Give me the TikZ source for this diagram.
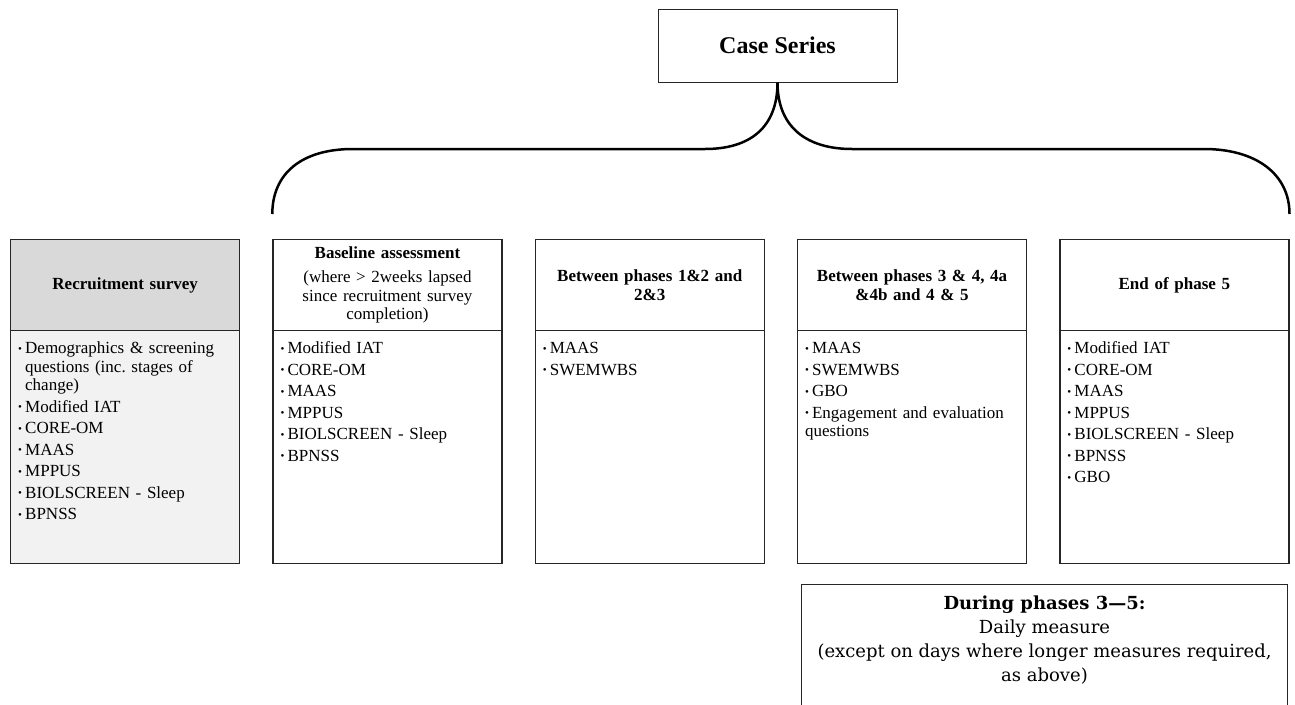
\documentclass[tikz,border=0pt]{standalone}
\usepackage{fontspec}
\setmainfont{Liberation Serif}
\newfontfamily\dailyfont{DejaVu Serif}
\usetikzlibrary{positioning}

\definecolor{hdgray}{HTML}{D9D9D9}
\definecolor{bdgray}{HTML}{F2F2F2}

% one bulleted entry, hanging indent for wrapped lines
\newcommand{\itm}{\par\hangindent=7pt\hangafter=1\noindent\makebox[7pt][l]{\raisebox{0.2ex}{\fontsize{11}{11}\selectfont\textbullet}}}

\begin{document}
\begin{tikzpicture}[x=1pt, y=-1pt,
    head/.style={draw=black!85, line width=1.3pt, minimum width=229pt, minimum height=91pt,
                 text width=213pt, inner xsep=8pt, align=center,
                 font=\fontsize{17}{18.5}\selectfont\bfseries},
    body/.style={draw=black!85, line width=1.3pt, minimum width=229pt, minimum height=233pt, inner sep=0pt},
    items/.style={anchor=north west, text width=212pt, inner sep=0pt,
                  font=\fontsize{17}{18.5}\selectfont,
                  execute at begin node={\raggedright\parskip=3pt}},
    brace/.style={line width=2.5pt, line cap=butt}]
  \useasboundingbox (0,0) rectangle (1295,704);
  \clip (0,0) rectangle (1295,704);

  % top box and brace
  \node[draw=black!85, line width=1pt, minimum width=239pt, minimum height=73pt,
        font=\fontsize{24}{26}\selectfont\bfseries] (case) at (777.5,45.5) {Case Series};
  \coordinate (ml) at (705,149);
  \coordinate (ll) at (353,149);
  \coordinate (mr) at (852,149);
  \coordinate (rr) at (1204,149);

  % the five columns
  \node[head, fill=hdgray, anchor=north west] (rec) at (10,239) {Recruitment survey};
  \node[head, right=32pt of rec] (base) {Baseline assessment\\[6pt]
    \normalfont(where > 2weeks lapsed\\ since recruitment survey\\ completion)};
  \node[head, right=32pt of base] (ph12) {Between phases 1\&2 and\\ 2\&3};
  \node[head, right=32pt of ph12] (ph34) {Between phases 3 \& 4, 4a\\ \&4b and 4 \& 5};
  \node[head, right=32pt of ph34] (endp) {End of phase 5};

  \node[body, fill=bdgray, below=-1.3pt of rec] (recb) {};
  \foreach \n in {base,ph12,ph34,endp}
    \node[body, below=-1.3pt of \n] (\n b) {};

  \coordinate (bl) at ([yshift=25pt]base.north west);
  \coordinate (br) at ([yshift=25pt]endp.north east);
  \draw[brace] (bl) .. controls +(0,-40) and +(-52,0) .. (ll) -- (ml)
    .. controls +(45,0) and +(0,45) .. (case.south)
    .. controls +(0,45) and +(-45,0) .. (mr) -- (rr)
    .. controls +(52,0) and +(0,-40) .. (br);

  \node[items] (recl) at ([shift={(8pt,-2pt)}]recb.north west)
    {\itm Demographics \& screening\newline questions (inc.\ stages of\newline change)
     \itm Modified IAT \itm CORE-OM \itm MAAS \itm MPPUS \itm BIOLSCREEN - Sleep \itm BPNSS};
  \node[items] (basel) at ([shift={(8pt,-2pt)}]baseb.north west)
    {\itm Modified IAT \itm CORE-OM \itm MAAS \itm MPPUS \itm BIOLSCREEN - Sleep \itm BPNSS};
  \node[items] (ph12l) at ([shift={(8pt,-2pt)}]ph12b.north west)
    {\itm MAAS \itm SWEMWBS};
  \node[items] (ph34l) at ([shift={(8pt,-2pt)}]ph34b.north west)
    {\itm MAAS \itm SWEMWBS \itm GBO \itm Engagement and evaluation\newline questions};
  \node[items] (endpl) at ([shift={(8pt,-2pt)}]endpb.north west)
    {\itm Modified IAT \itm CORE-OM \itm MAAS \itm MPPUS \itm BIOLSCREEN - Sleep \itm BPNSS \itm GBO};

  % daily measure box, running off the bottom edge
  \node[draw=black!85, line width=1pt, anchor=north west, minimum width=486pt,
        minimum height=150pt] (daily) at (801,584) {};
  \node[anchor=north, align=center, inner sep=0pt, font=\dailyfont\fontsize{18}{24}\selectfont]
    (dailyt) at ([yshift=-12pt]daily.north)
    {\textbf{During phases 3\textemdash5:}\\ Daily measure\\
     (except on days where longer measures required,\\ as above)};
\end{tikzpicture}
\end{document}
